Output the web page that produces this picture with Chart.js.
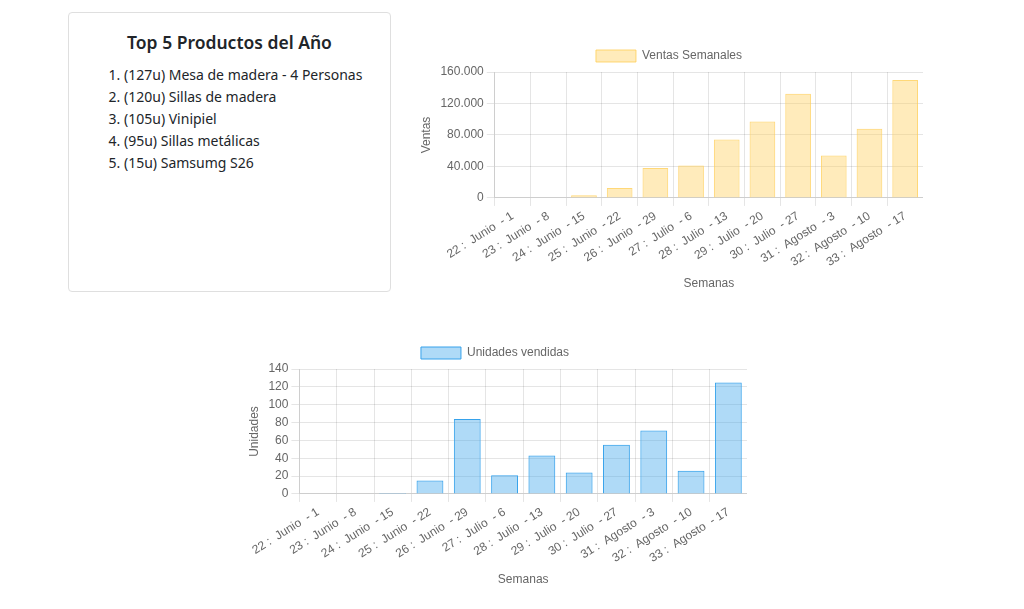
<!DOCTYPE html>
<html>
<head>
<meta charset="utf-8">
<script src="https://cdn.jsdelivr.net/npm/chart.js@4.4.0/dist/chart.umd.min.js"></script>
<style>
  body { margin: 0; background: #fff; font-family: "Noto Sans", sans-serif; color: #212529; }
  .card {
    position: absolute; left: 68px; top: 12px; width: 323px; height: 280px;
    border: 1px solid #dfdfdf; border-radius: 4px; box-sizing: border-box;
  }
  .card h5 { margin: 17px 0 0 0; text-align: center; font-size: 17.5px; font-weight: 600; }
  .card ol { margin: 10px 0 0 0; padding-left: 55px; font-size: 14px; line-height: 22px; }
  .chartBox { position: absolute; }
</style>
</head>
<body>
<div class="card">
  <h5>Top 5 Productos del Año</h5>
  <ol id="topList"></ol>
</div>
<div class="chartBox" style="left:415px; top:40px; width:508px; height:255px;"><canvas id="ventasChart"></canvas></div>
<div class="chartBox" style="left:243px; top:337px; width:504px; height:254px;"><canvas id="unidadesChart"></canvas></div>
<script>
const semanas = [
  "22 :  Junio  - 1", "23 :  Junio  - 8", "24 :  Junio  - 15", "25 :  Junio  - 22",
  "26 :  Junio  - 29", "27 :  Julio  - 6", "28 :  Julio  - 13", "29 :  Julio  - 20",
  "30 :  Julio  - 27", "31 :  Agosto  - 3", "32 :  Agosto  - 10", "33 :  Agosto  - 17"
]
const ventas = [0, 0, 3400, 12700, 38200, 41200, 74300, 97200, 132400, 53900, 87900, 149800]
const unidades = [0, 0, 1, 15, 84, 21, 43, 24, 55, 71, 26, 125]
const topProductos = [
  "(127u) Mesa de madera - 4 Personas",
  "(120u) Sillas de madera",
  "(105u) Vinipiel",
  "(95u) Sillas metálicas",
  "(15u) Samsumg S26"
]

const ol = document.getElementById("topList")
topProductos.forEach(p => {
  const li = document.createElement("li")
  li.textContent = p
  ol.appendChild(li)
})

function miles(v) {
  return String(v).replace(/\B(?=(\d{3})+(?!\d))/g, ".")
}

function makeChart(id, label, data, bg, border, yTitle, yOpts) {
  new Chart(document.getElementById(id).getContext("2d"), {
    type: "bar",
    data: {
      labels: semanas,
      datasets: [{
        label: label,
        data: data,
        backgroundColor: bg,
        borderColor: border,
        borderWidth: 1
      }]
    },
    options: {
      responsive: true,
      maintainAspectRatio: false,
      animation: false,
      plugins: { legend: { display: true } },
      scales: {
        x: {
          title: { display: true, text: "Semanas" },
          ticks: { maxRotation: 32, minRotation: 32 }
        },
        y: Object.assign({
          beginAtZero: true,
          title: { display: true, text: yTitle }
        }, yOpts)
      }
    }
  })
}

makeChart("ventasChart", "Ventas Semanales", ventas,
  "rgba(255, 206, 86, 0.4)", "rgba(255, 206, 86, 0.8)", "Ventas",
  { max: 160000, ticks: { stepSize: 40000, callback: v => miles(v) } })

makeChart("unidadesChart", "Unidades vendidas", unidades,
  "rgba(54, 162, 235, 0.4)", "rgba(54, 162, 235, 1)", "Unidades",
  { max: 140, ticks: { stepSize: 20 } })
</script>
</body>
</html>
